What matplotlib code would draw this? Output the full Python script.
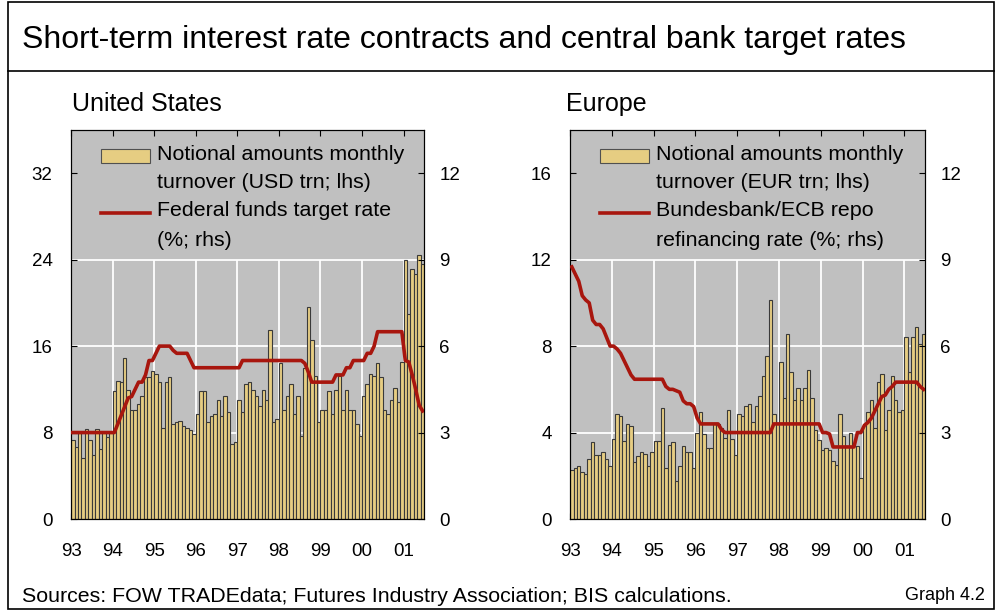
import matplotlib.pyplot as plt
import numpy as np
from matplotlib.patches import Rectangle
from matplotlib.lines import Line2D

plt.rcParams['font.family'] = ['Liberation Sans', 'DejaVu Sans']

years = ["93", "94", "95", "96", "97", "98", "99", "00", "01"]

# monthly data, Jan 1993 - Jun 2001
us_turnover = [
    7.3, 6.7, 8.0, 5.6, 8.3, 7.3, 5.9, 8.3, 6.5, 8.0, 7.6, 8.0,
    11.8, 12.8, 12.7, 14.9, 11.9, 10.1, 10.1, 10.6, 11.4, 13.1, 13.1, 13.7,
    13.4, 12.7, 8.4, 12.7, 13.1, 8.8, 9.0, 9.1, 8.6, 8.4, 8.2, 7.9,
    9.7, 11.8, 11.8, 9.0, 9.5, 9.7, 11.0, 9.5, 11.4, 9.9, 6.9, 7.1,
    11.0, 9.9, 12.5, 12.7, 11.9, 11.4, 10.5, 11.9, 11.0, 17.5, 9.0, 9.3,
    14.4, 10.1, 11.4, 12.5, 9.7, 11.4, 7.7, 14.0, 19.6, 16.6, 13.2, 9.0,
    10.1, 10.1, 11.8, 9.7, 11.9, 13.2, 10.1, 11.9, 10.1, 10.1, 8.8, 7.7,
    11.4, 12.5, 13.4, 13.2, 14.4, 13.1, 10.1, 9.7, 11.0, 12.1, 10.8, 14.5,
    24.0, 19.0, 23.1, 22.7, 24.4, 23.6,
]
us_rate = [
    3.0, 3.0, 3.0, 3.0, 3.0, 3.0, 3.0, 3.0, 3.0, 3.0, 3.0, 3.0,
    3.0, 3.3, 3.6, 3.9, 4.2, 4.25, 4.5, 4.75, 4.75, 5.0, 5.5, 5.5,
    5.75, 6.0, 6.0, 6.0, 6.0, 5.85, 5.75, 5.75, 5.75, 5.75, 5.5, 5.25,
    5.25, 5.25, 5.25, 5.25, 5.25, 5.25, 5.25, 5.25, 5.25, 5.25, 5.25, 5.25,
    5.25, 5.5, 5.5, 5.5, 5.5, 5.5, 5.5, 5.5, 5.5, 5.5, 5.5, 5.5,
    5.5, 5.5, 5.5, 5.5, 5.5, 5.5, 5.5, 5.4, 5.1, 4.75, 4.75, 4.75,
    4.75, 4.75, 4.75, 4.75, 5.0, 5.0, 5.0, 5.25, 5.25, 5.5, 5.5, 5.5,
    5.5, 5.75, 5.75, 6.0, 6.5, 6.5, 6.5, 6.5, 6.5, 6.5, 6.5, 6.5,
    5.5, 5.45, 5.0, 4.5, 3.95, 3.75,
]
eu_turnover = [
    2.28, 2.36, 2.43, 2.17, 2.08, 2.79, 3.55, 2.98, 2.98, 3.1, 2.79, 2.43,
    3.72, 4.85, 4.76, 3.63, 4.39, 4.29, 2.62, 2.9, 3.1, 3.0, 2.43, 3.1,
    3.63, 3.63, 5.12, 2.36, 3.44, 3.55, 1.78, 2.43, 3.36, 3.1, 3.1, 2.36,
    4.0, 4.95, 3.94, 3.27, 3.27, 4.39, 4.39, 4.19, 3.75, 5.04, 3.72, 2.98,
    4.85, 4.76, 5.22, 5.3, 4.48, 5.22, 5.7, 6.62, 7.55, 10.14, 4.85, 4.4,
    7.26, 5.58, 8.56, 6.8, 5.49, 6.06, 5.5, 6.06, 6.9, 5.58, 4.14, 3.64,
    3.2, 3.27, 3.2, 2.7, 2.5, 4.85, 3.83, 3.36, 4.0, 3.36, 3.36, 1.88,
    4.39, 4.95, 5.49, 4.2, 6.34, 6.71, 4.14, 5.04, 6.62, 5.49, 4.95, 5.04,
    8.4, 6.8, 8.4, 8.87, 8.09, 8.56,
]
eu_rate = [
    8.75, 8.5, 8.25, 7.75, 7.6, 7.5, 6.9, 6.75, 6.75, 6.6, 6.3, 6.0,
    6.0, 5.9, 5.75, 5.5, 5.25, 5.0, 4.85, 4.85, 4.85, 4.85, 4.85, 4.85,
    4.85, 4.85, 4.85, 4.6, 4.5, 4.5, 4.45, 4.4, 4.1, 4.0, 4.0, 3.9,
    3.5, 3.3, 3.3, 3.3, 3.3, 3.3, 3.3, 3.1, 3.0, 3.0, 3.0, 3.0,
    3.0, 3.0, 3.0, 3.0, 3.0, 3.0, 3.0, 3.0, 3.0, 3.0, 3.3, 3.3,
    3.3, 3.3, 3.3, 3.3, 3.3, 3.3, 3.3, 3.3, 3.3, 3.3, 3.3, 3.3,
    3.0, 3.0, 2.95, 2.5, 2.5, 2.5, 2.5, 2.5, 2.5, 2.5, 3.0, 3.0,
    3.25, 3.35, 3.5, 3.75, 4.0, 4.25, 4.3, 4.5, 4.6, 4.75, 4.75, 4.75,
    4.75, 4.75, 4.75, 4.75, 4.6, 4.5,
]

W, H = 1002, 611
BAR = '#e6cd82'
RED = '#a8160e'
BG = '#c0c0c0'


def box(x0, y0, x1, y1):
    return [x0 / W, 1 - y1 / H, (x1 - x0) / W, (y1 - y0) / H]


def panel(pos, turnover, rate, lmax, lstep, subtitle, sub_x, leg1, leg2):
    x0, y0, x1, y1 = pos
    ax = fig.add_axes(box(*pos))
    ax.set_facecolor(BG)
    m = np.arange(len(turnover))
    ticks = np.arange(len(years)) * 12 - 0.5

    grid_top = lstep * 3
    for v in [lstep, lstep * 2, lstep * 3]:
        ax.axhline(v, color='white', lw=1.3, zorder=1)
    ax.vlines(ticks[1:], 0, grid_top, color='white', lw=1.3, zorder=1)

    ax.bar(m, turnover, width=1.0, color=BAR, edgecolor='#3a3a3a',
           linewidth=0.8, zorder=2)
    ax.set_xlim(-0.6, 101.4)
    ax.set_ylim(0, lmax)
    ax.set_yticks(np.arange(0, lstep * 5, lstep))
    ax.set_xticks(ticks)
    ax.set_xticklabels(years)
    ax.tick_params(axis='x', direction='in', length=4, top=True,
                   labelsize=13.5, pad=17)
    ax.tick_params(axis='y', direction='in', length=4, left=True,
                   right=False, labelsize=13.5, pad=13)

    tw = ax.twinx()
    tw.plot(m, rate, color=RED, lw=2.6, zorder=3)
    tw.set_ylim(0, 13.5)
    tw.set_yticks([0, 3, 6, 9, 12])
    tw.tick_params(axis='y', direction='in', length=4, labelsize=13.5, pad=11)

    # legend
    def fx(px):
        return (px - x0) / (x1 - x0)

    def fy(py):
        return (y1 - py) / (y1 - y0)

    tw.add_patch(Rectangle((fx(x0 + 30.5), fy(163)), fx(x0 + 79) - fx(x0 + 30.5),
                           fy(149) - fy(163), transform=tw.transAxes,
                           facecolor=BAR, edgecolor='#505050', lw=0.8))
    tw.add_artist(Line2D([fx(x0 + 30.5), fx(x0 + 79)], [fy(213), fy(213)],
                         transform=tw.transAxes, color=RED, lw=2.6))
    for txt, py in zip(leg1 + leg2, [155, 183, 211, 240]):
        tw.text(fx(x0 + 86.5), fy(py), txt, transform=tw.transAxes,
                fontsize=15.4, va='center', ha='left')

    fig.text(sub_x / W, 1 - 104 / H, subtitle, fontsize=18,
             va='center', ha='left')
    return ax


fig = plt.figure(figsize=(W / 100, H / 100), dpi=100)

panel((70.7, 130, 424, 519), us_turnover, us_rate, 36, 8, "United States", 72,
      ["Notional amounts monthly", "turnover (USD trn; lhs)"],
      ["Federal funds target rate", "(%; rhs)"])
panel((569.7, 130, 925, 519), eu_turnover, eu_rate, 18, 4, "Europe", 566,
      ["Notional amounts monthly", "turnover (EUR trn; lhs)"],
      ["Bundesbank/ECB repo", "refinancing rate (%; rhs)"])

# frame and title
fig.add_artist(Rectangle((8 / W, 1 - 609 / H), 986 / W, 607 / H,
                         transform=fig.transFigure, fill=False,
                         edgecolor='black', lw=1.2))
fig.add_artist(Line2D([8 / W, 994 / W], [1 - 71 / H, 1 - 71 / H],
                      transform=fig.transFigure, color='black', lw=1.2))
fig.text(22 / W, 1 - 40 / H,
         "Short-term interest rate contracts and central bank target rates",
         fontsize=23, va='center', ha='left')
fig.text(22 / W, 1 - 596 / H,
         "Sources: FOW TRADEdata; Futures Industry Association; BIS calculations.",
         fontsize=15.4, va='center', ha='left')
fig.text(985 / W, 1 - 596 / H, "Graph 4.2", fontsize=13, va='center',
         ha='right')

plt.savefig("out.png", dpi=100)
